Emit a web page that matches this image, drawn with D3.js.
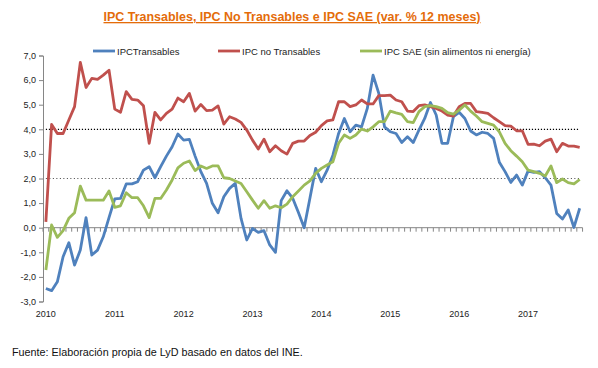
<!DOCTYPE html>
<html><head><meta charset="utf-8">
<script src="https://cdn.jsdelivr.net/npm/d3@7"></script>
<style>
body{margin:0;background:#fff;}
svg{display:block;font-family:"Liberation Sans",Arial,sans-serif;}
</style></head>
<body><svg id="c" width="598" height="368"></svg>
<script>
const yearLabels = ["2010","2011","2012","2013","2014","2015","2016","2017"];
const yTicks = [-3,-2,-1,0,1,2,3,4,5,6,7];
const refLines = [4.0, 2.0];
const transables = [-2.47,-2.56,-2.2,-1.18,-0.61,-1.52,-0.91,0.41,-1.11,-0.91,-0.37,0.41,
 1.17,1.19,1.78,1.78,1.87,2.34,2.48,2.03,2.48,2.91,3.29,3.81,
 3.56,3.59,2.91,2.28,1.8,0.99,0.61,1.26,1.6,1.8,0.38,-0.5,
 -0.03,-0.19,-0.12,-0.7,-1.0,1.1,1.5,1.2,0.62,0.0,1.2,2.41,
 1.87,2.34,2.95,3.83,4.44,3.9,4.17,4.1,4.85,6.2,5.46,4.1,
 3.9,3.83,3.46,3.7,3.46,3.97,4.44,5.09,4.58,3.43,3.43,4.51,
 4.69,4.44,3.93,3.77,3.88,3.83,3.63,2.66,2.28,1.84,2.14,1.73,
 2.3,2.25,2.28,2.03,1.73,0.58,0.35,0.72,0.01,0.79];
const noTransables = [0.24,4.2,3.83,3.83,4.38,4.92,6.72,5.7,6.07,6.03,6.2,6.4,
 4.82,4.69,5.53,5.22,5.19,4.96,3.43,4.69,4.38,4.65,4.82,5.27,
 5.12,5.46,4.74,5.01,4.76,4.78,4.95,4.21,4.51,4.42,4.28,3.97,
 3.56,3.2,3.6,3.09,3.33,3.13,2.99,3.43,3.52,3.52,3.75,3.88,
 4.15,4.34,4.38,5.12,5.12,4.92,4.99,5.19,5.03,5.03,5.37,5.37,
 5.39,5.19,5.12,4.74,4.72,4.96,4.99,4.92,4.85,4.74,4.58,4.54,
 4.92,5.05,5.05,4.72,4.69,4.65,4.47,4.31,4.15,4.13,3.94,3.94,
 3.39,3.4,3.33,3.52,3.6,3.09,3.43,3.32,3.32,3.27];
const sae = [-1.72,0.11,-0.39,-0.12,0.38,0.61,1.69,1.12,1.12,1.12,1.12,1.49,
 0.83,0.89,1.42,1.22,1.22,0.89,0.41,1.19,1.19,1.53,1.94,2.43,
 2.62,2.71,2.32,2.51,2.41,2.51,2.51,2.03,2.0,1.9,1.8,1.46,
 1.12,0.79,1.1,0.79,0.89,0.81,0.96,1.26,1.49,1.73,1.9,2.21,
 2.41,2.55,2.68,3.43,3.77,3.63,3.77,4.01,3.93,4.1,4.31,4.31,
 4.74,4.67,4.61,4.31,4.27,4.72,4.92,4.96,4.92,4.85,4.68,4.62,
 4.78,4.99,4.74,4.54,4.31,4.24,4.17,3.9,3.43,3.13,2.91,2.68,
 2.34,2.28,2.21,2.1,2.51,1.83,1.98,1.83,1.78,1.96];
const seriesNames = ["IPCTransables","IPC no Transables","IPC SAE (sin alimentos  ni energía)"];
const seriesColors = ["#4F81BD","#C0504D","#9BBB59"];

const svg = d3.select("#c");
const n = transables.length;
const idx = d3.range(n);
const x = d3.scaleBand().domain(idx).range([43, 43 + n*5.74]).padding(0);
const cx = i => x(i) + x.bandwidth()/2;
const y = d3.scaleLinear().domain([-3,7]).range([301.5,55.5]);

// title
svg.append("text").attr("x",292).attr("y",21).attr("text-anchor","middle")
  .attr("font-size",13).attr("font-weight","bold").attr("fill","#E46C0A")
  .attr("textLength",377).attr("lengthAdjust","spacingAndGlyphs")
  .style("text-decoration","underline")
  .text("IPC Transables, IPC No Transables  e IPC SAE (var. % 12 meses)");

// y axis
const yAxis = d3.axisLeft(y).tickValues(yTicks).tickSize(4)
  .tickFormat(d => d.toFixed(1).replace(".",","));
const ga = svg.append("g").attr("transform","translate(43,0)").call(yAxis);
ga.select(".domain").attr("stroke","#868686");
ga.selectAll(".tick line").attr("stroke","#868686");
ga.selectAll(".tick text").attr("font-size",9).attr("fill","#222").attr("x",-7);

// x axis at zero
const xg = svg.append("g");
xg.append("line").attr("x1",43).attr("x2",43+n*5.74).attr("y1",y(0)).attr("y2",y(0))
  .attr("stroke","#868686").attr("stroke-width",1);
xg.selectAll("line.t").data(d3.range(n+1)).join("line").attr("class","t")
  .attr("x1",d=> d<n ? x(d) : x(n-1)+x.bandwidth()).attr("x2",d=> d<n ? x(d) : x(n-1)+x.bandwidth())
  .attr("y1",y(0)).attr("y2",y(0)+4).attr("stroke","#868686");
svg.selectAll("text.xl").data(yearLabels).join("text").attr("class","xl")
  .attr("x",(d,i)=>cx(i*12)).attr("y",317).attr("text-anchor","middle")
  .attr("font-size",9).attr("fill","#222").text(d=>d);

// reference lines
svg.append("line").attr("x1",cx(0)).attr("x2",cx(n-1)).attr("y1",y(refLines[0])).attr("y2",y(refLines[0]))
  .attr("stroke","#000").attr("stroke-width",1.2).attr("stroke-dasharray","1.2,1.8");
svg.append("line").attr("x1",cx(0)).attr("x2",cx(n-1)).attr("y1",y(refLines[1])).attr("y2",y(refLines[1]))
  .attr("stroke","#444").attr("stroke-width",1).attr("stroke-dasharray","1,2.5");

// series
const line = d3.line().x((d,i)=>cx(i)).y(d=>y(d));
[transables, noTransables, sae].forEach((s,k)=>{
  svg.append("path").datum(s).attr("d",line).attr("fill","none")
    .attr("stroke",seriesColors[k]).attr("stroke-width",2.8).attr("stroke-linejoin","round");
});

// legend
const legX = [93,218,360];
seriesNames.forEach((nm,k)=>{
  svg.append("line").attr("x1",legX[k]).attr("x2",legX[k]+22).attr("y1",51).attr("y2",51)
    .attr("stroke",seriesColors[k]).attr("stroke-width",2.8);
  svg.append("text").attr("x",legX[k]+24).attr("y",54.5).attr("font-size",9.5).attr("fill","#222").text(nm);
});

// footnote
svg.append("text").attr("x",12).attr("y",356).attr("font-size",10.8).attr("fill","#111")
  .text("Fuente: Elaboración propia de LyD basado en datos del INE.");
</script></body></html>
